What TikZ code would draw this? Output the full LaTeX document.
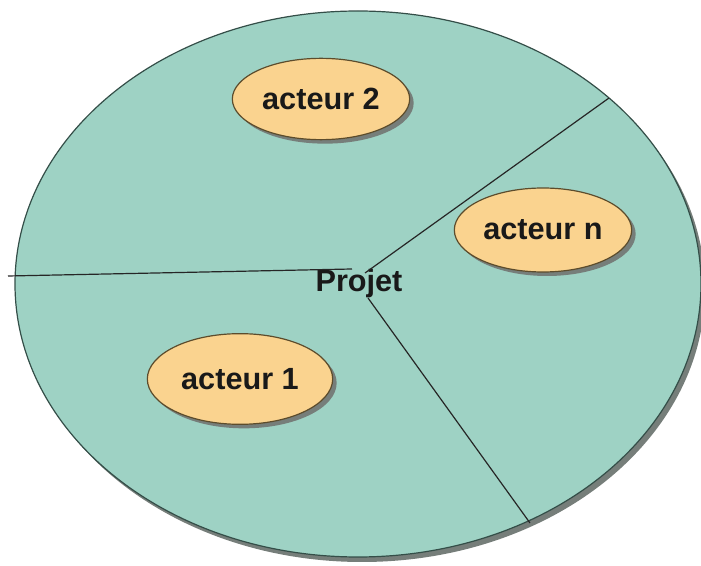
\documentclass[tikz,border=0pt]{standalone}
\usepackage{fontspec}
\setmainfont{Liberation Sans}
\usetikzlibrary{shapes.geometric,shadows}

\definecolor{projfill}{RGB}{158,210,196}
\definecolor{projline}{RGB}{52,78,72}
\definecolor{actfill}{RGB}{250,211,143}
\definecolor{actline}{RGB}{92,76,44}
\definecolor{shadegray}{RGB}{118,126,122}

\tikzset{
  acteur/.style={ellipse, draw=actline, line width=0.9pt, fill=actfill, inner sep=0pt,
    font=\fontsize{23}{27}\selectfont\bfseries, text=black!90,
    drop shadow={shadow xshift=3pt, shadow yshift=-3pt, fill=shadegray, opacity=1}},
  cloison/.style={draw=black!85, line width=0.9pt}
}

\begin{document}
\begin{tikzpicture}[x=0.75pt,y=0.75pt,yscale=-1,xscale=1]
\useasboundingbox (0,0) rectangle (701,566);

%Shape: Ellipse (shadow)
\fill[shadegray] (362,289) ellipse (343 and 273);
%Shape: Ellipse
\draw[projline, line width=0.9pt, fill=projfill] (358,284) ellipse (343 and 273);

% Text Node
\node[inner sep=0pt, font=\fontsize{23}{27}\selectfont\bfseries, text=black!90] (projet) at (359,284) {Projet};

%Shape: Ellipse
\node[acteur, minimum width=133pt, minimum height=61pt] (acteur2) at (321,99) {acteur 2};
%Shape: Ellipse
\node[acteur, minimum width=133pt, minimum height=63pt] (acteurn) at (543,230) {acteur n};
%Shape: Ellipse
\node[acteur, minimum width=139pt, minimum height=68pt] (acteur1) at (240,379) {acteur 1};

\coordinate (bordO) at (8,276);
\coordinate (bordNE) at (609,98);
\coordinate (bordS) at (530,523);
\coordinate (finO) at (352,269);
\coordinate (finNE) at (365,273);
\coordinate (finS) at (368,298);

%Straight Lines
\draw[cloison] (bordO) -- (finO);
%Straight Lines
\draw[cloison] (finNE) -- (bordNE);
%Straight Lines
\draw[cloison] (finS) -- (bordS);

\end{tikzpicture}
\end{document}
